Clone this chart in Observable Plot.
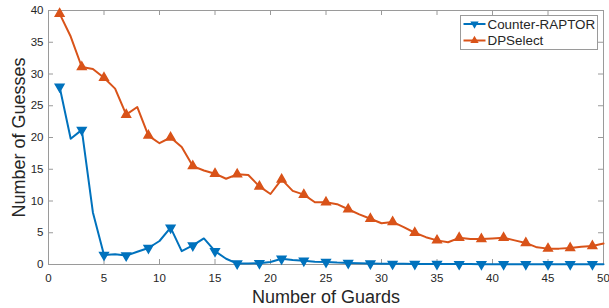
<!DOCTYPE html>
<html>
<head>
<meta charset="utf-8">
<script src="https://cdn.jsdelivr.net/npm/d3@7"></script>
<script src="https://cdn.jsdelivr.net/npm/@observablehq/plot@0.6"></script>
<style>
  html, body { margin: 0; padding: 0; background: #fff; }
  #chart svg { display: block; }
</style>
</head>
<body>
<div id="chart"></div>
<script>
const guards = [1,2,3,4,5,6,7,8,9,10,11,12,13,14,15,16,17,18,19,20,21,22,23,24,25,26,27,28,29,30,31,32,33,34,35,36,37,38,39,40,41,42,43,44,45,46,47,48,49,50];
const counterRaptor = [28.0,19.8,21.2,8.2,1.5,1.6,1.4,2.0,2.6,3.7,5.8,2.1,3.0,4.1,2.1,0.9,0.15,0.15,0.2,0.4,0.9,0.7,0.6,0.45,0.4,0.3,0.25,0.2,0.15,0.1,0.1,0.1,0.08,0.08,0.07,0.07,0.06,0.06,0.05,0.05,0.05,0.05,0.05,0.05,0.05,0.05,0.05,0.05,0.05,0.05];
const dpSelect = [39.5,35.9,31.1,30.8,29.4,27.7,23.6,24.8,20.3,19.1,20.0,18.5,15.5,14.8,14.3,13.5,14.2,14.1,12.3,11.1,13.4,11.6,11.0,9.8,9.8,9.5,8.7,7.9,7.2,6.5,6.7,5.9,5.0,4.3,3.8,3.5,4.2,4.0,4.0,4.1,4.2,3.8,3.4,2.7,2.5,2.5,2.6,2.8,2.9,3.3];
const seriesNames = ["Counter-RAPTOR", "DPSelect"];
const seriesColors = ["#0072BD", "#D95319"];
const xTicks = [0,5,10,15,20,25,30,35,40,45,50];
const yTicks = [0,5,10,15,20,25,30,35,40];
const xLabel = "Number of Guards";
const yLabel = "Number of Guesses";

const W = 609, H = 308;
const mL = 48, mR = 6, mT = 10, mB = 44;
const fw = W - mL - mR, fh = H - mT - mB;
const axisGray = "#9a9a9a";
const textColor = "#262626";
const font = "'Liberation Sans', Arial, Helvetica, sans-serif";

const rows = [];
guards.forEach((g, i) => {
  rows.push({x: g, y: counterRaptor[i], s: seriesNames[0]});
  rows.push({x: g, y: dpSelect[i], s: seriesNames[1]});
});
const cr = rows.filter(d => d.s === seriesNames[0]);
const dp = rows.filter(d => d.s === seriesNames[1]);
const isMarker = d => d.x % 2 === 1;

const chart = Plot.plot({
  width: W, height: H,
  marginLeft: mL, marginRight: mR, marginTop: mT, marginBottom: mB,
  style: {fontFamily: font, color: textColor, background: "#fff"},
  x: {domain: [0, 50], ticks: xTicks},
  y: {domain: [0, 40], ticks: yTicks},
  marks: [
    Plot.frame({stroke: axisGray, strokeWidth: 1}),
    // inward ticks
    Plot.tickX(xTicks, {x: d => d, insetTop: fh - 5, stroke: axisGray}),
    Plot.tickX(xTicks, {x: d => d, insetBottom: fh - 5, stroke: axisGray}),
    Plot.tickY(yTicks, {y: d => d, insetRight: fw - 5, stroke: axisGray}),
    Plot.tickY(yTicks, {y: d => d, insetLeft: fw - 5, stroke: axisGray}),
    Plot.axisX(xTicks, {tickSize: 0, tickPadding: 9, label: null, fontSize: 11.5, fill: textColor}),
    Plot.axisY(yTicks, {tickSize: 0, tickPadding: 5, label: null, fontSize: 11.5, fill: textColor}),
    Plot.text([xLabel], {frameAnchor: "bottom", dy: 38, lineAnchor: "bottom", textAnchor: "middle", fontSize: 18, fill: textColor}),
    Plot.text([yLabel], {frameAnchor: "left", dx: -24, rotate: -90, lineAnchor: "bottom", textAnchor: "middle", fontSize: 18, fill: textColor}),
    Plot.line(cr, {x: "x", y: "y", stroke: seriesColors[0], strokeWidth: 2}),
    Plot.dot(cr.filter(isMarker), {x: "x", y: "y", symbol: "triangle", rotate: 180, r: 3.2, fill: seriesColors[0], stroke: seriesColors[0]}),
    Plot.line(dp, {x: "x", y: "y", stroke: seriesColors[1], strokeWidth: 2}),
    Plot.dot(dp.filter(isMarker), {x: "x", y: "y", symbol: "triangle", r: 3.2, fill: seriesColors[1], stroke: seriesColors[1]})
  ]
});
document.getElementById("chart").appendChild(chart);

// Legend (MATLAB-style box, top-right inside the axes)
const svg = d3.select(chart);
const lg = svg.append("g").attr("font-family", font).attr("text-anchor", "start");
const bx = 460.5, by = 15.5, bw = 137, bh = 34;
lg.append("rect").attr("x", bx).attr("y", by).attr("width", bw).attr("height", bh)
  .attr("fill", "#ffffff").attr("stroke", axisGray).attr("stroke-width", 1);
seriesNames.forEach((name, i) => {
  const cy = by + 8.5 + i * 16.5;
  lg.append("line").attr("x1", bx + 3).attr("x2", bx + 25).attr("y1", cy).attr("y2", cy)
    .attr("stroke", seriesColors[i]).attr("stroke-width", 2);
  const sym = d3.symbol(d3.symbolTriangle, 30)();
  lg.append("path").attr("d", sym)
    .attr("transform", `translate(${bx + 14},${cy}) rotate(${i === 0 ? 180 : 0})`)
    .attr("fill", seriesColors[i]);
  lg.append("text").attr("x", bx + 27).attr("y", cy).attr("dy", "0.35em")
    .attr("text-anchor", "start")
    .attr("font-size", 13.4).attr("fill", textColor).text(name);
});
</script>
</body>
</html>
